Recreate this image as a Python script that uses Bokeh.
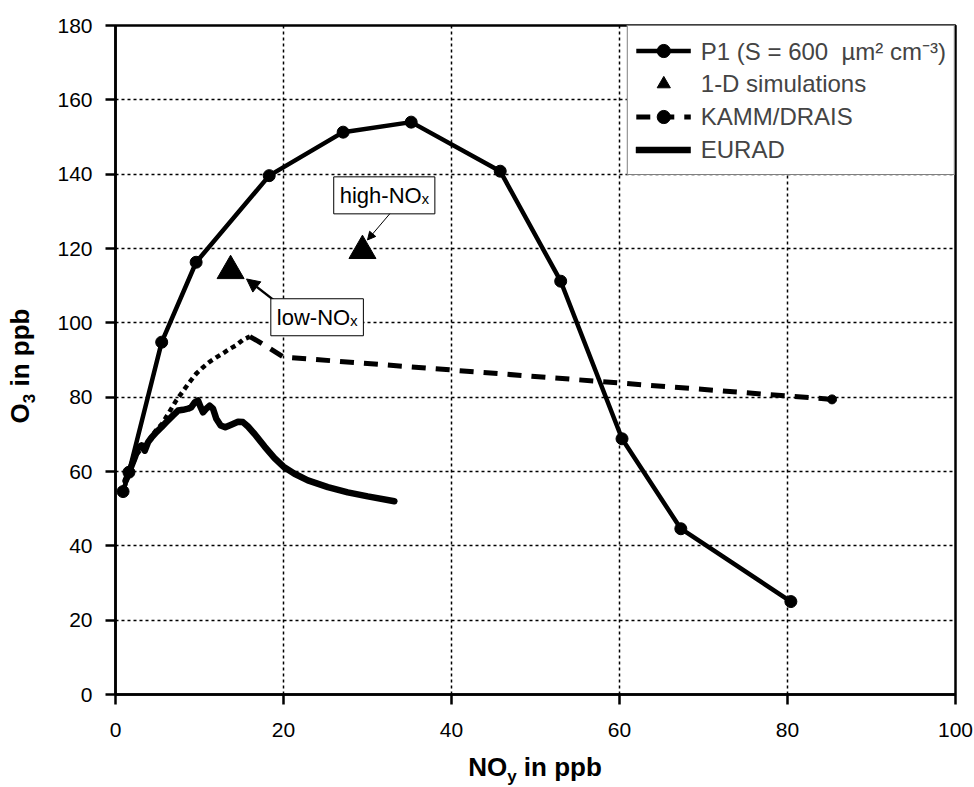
from bokeh.plotting import figure
from bokeh.models import (Range1d, FixedTicker, Legend, LegendItem, Label,
                          Arrow, NormalHead, Div)
from bokeh.layouts import row, column
from bokeh.embed import file_html
from bokeh.resources import INLINE

# ---- data ----
x_ticks = [0, 20, 40, 60, 80, 100]
y_ticks = [0, 20, 40, 60, 80, 100, 120, 140, 160, 180]

p1_x = [0.9, 1.6, 5.5, 9.6, 18.3, 27.1, 35.2, 45.8, 53.0, 60.3, 67.3, 80.4]
p1_y = [54.6, 59.8, 94.8, 116.3, 139.6, 151.3, 154.0, 140.8, 111.2, 68.8, 44.6, 25.0]

sim_x = [13.7, 29.4]
sim_y = [114.0, 119.4]

kamm_x = [1.0, 1.8, 2.5, 3.2, 4.0, 4.8, 5.6, 6.4, 7.2, 8.0, 8.8, 9.6, 10.4,
          11.2, 12.0, 12.8, 13.6, 14.4, 15.2, 16.0, 17.0, 18.3, 20.0, 85.3]
kamm_y = [55.5, 60.5, 64.5, 66.5, 68.5, 71.0, 73.0, 76.0, 79.0, 81.5, 84.0,
          86.3, 88.0, 89.5, 90.7, 91.8, 93.0, 94.0, 95.5, 96.3, 95.0, 93.2,
          90.8, 79.4]

eurad_x = [1.2, 1.70, 2.30, 2.69, 3.09, 3.49, 3.88, 4.28, 4.87, 5.47, 6.06,
           6.85, 7.45, 8.04, 8.64, 9.03, 9.43, 9.82, 10.14, 10.42, 10.81,
           11.21, 11.61, 12.0, 12.52, 13.07, 13.78, 14.58, 15.17, 15.77,
           16.56, 17.75, 18.93, 20.0, 21.31, 22.9, 25.28, 27.65, 30.03, 33.2]
eurad_y = [57.5, 60.3, 63.8, 66.4, 67.0, 65.6, 67.9, 69.1, 70.6, 71.9, 73.3,
           75.1, 76.4, 76.6, 76.9, 77.3, 78.6, 79.1, 77.3, 75.9, 76.9, 77.7,
           76.9, 74.2, 72.4, 71.9, 72.6, 73.4, 73.3, 72.1, 70.1, 66.7, 63.6,
           61.3, 59.4, 57.6, 55.8, 54.4, 53.3, 52.0]

FONT = "Liberation Sans"

LEFT_W = 40
P_W, P_H = 974 - LEFT_W, 752
BOT_H = 787 - P_H

p = figure(width=P_W, height=P_H, x_range=Range1d(0, 100), y_range=Range1d(0, 180),
           output_backend="svg", toolbar_location=None, margin=0,
           min_border_left=115 - LEFT_W, min_border_right=19, min_border_top=25,
           min_border_bottom=P_H - 694)
p.outline_line_color = "black"
p.outline_line_width = 2.5
p.background_fill_color = "white"

for ax, t, so in ((p.xaxis[0], x_ticks, 18), (p.yaxis[0], y_ticks, 13)):
    ax.ticker = FixedTicker(ticks=t)
    ax.axis_line_width = 2.5
    ax.major_tick_line_width = 2.5
    ax.major_tick_out = 10
    ax.major_tick_in = 0
    ax.minor_tick_out = 0
    ax.minor_tick_in = 0
    ax.major_label_text_font = FONT
    ax.major_label_text_font_size = "21px"
    ax.major_label_text_color = "black"
    ax.major_label_standoff = so

for g in (p.xgrid[0], p.ygrid[0]):
    g.grid_line_color = "black"
    g.grid_line_dash = "3 3"
    g.grid_line_width = 1.5

# EURAD
r_eurad = p.line(eurad_x, eurad_y, line_color="black", line_width=6.5,
                 line_join="round", line_cap="round")

# KAMM/DRAIS: dense part and long part
split = kamm_x.index(16.0)
r_kamm_a = p.line(kamm_x[:split + 1], kamm_y[:split + 1], line_color="black",
                  line_width=4.5, line_dash="5 4")
r_kamm_b = p.line(kamm_x[split:], kamm_y[split:], line_color="black",
                  line_width=5, line_dash="14 10")
r_kamm_dot = p.scatter(kamm_x[-1:], kamm_y[-1:], marker="circle", size=9,
                       fill_color="black", line_color="black")

# P1
r_p1_line = p.line(p1_x, p1_y, line_color="black", line_width=4.5, line_join="round")
r_p1_pts = p.scatter(p1_x, p1_y, marker="circle", size=12, fill_color="black",
                     line_color="black")

# 1-D simulations
r_sim = p.scatter(sim_x, sim_y, marker="triangle", size=27, fill_color="black",
                  line_color="black")

# annotations
p.add_layout(Arrow(end=NormalHead(size=8, fill_color="black", line_color="black"),
                   x_start=32.9, y_start=130.0, x_end=30.0, y_end=122.3,
                   line_width=1, line_color="black"))
p.add_layout(Arrow(end=NormalHead(size=13, fill_color="black", line_color="black"),
                   x_start=19.3, y_start=105.3, x_end=15.6, y_end=111.8,
                   line_width=2.5, line_color="black"))

for tx, ty, txt in ((32.0, 134.3, "high-NOₓ"), (24.0, 101.5, "low-NOₓ")):
    p.add_layout(Label(x=tx, y=ty, text=txt, text_align="center",
                       text_baseline="middle", text_font=FONT,
                       text_font_size="22px", text_color="black",
                       border_line_color="black", border_line_width=1,
                       background_fill_color="white", padding=6))

legend = Legend(items=[
    LegendItem(label="P1 (S = 600  µm² cm⁻³)", renderers=[r_p1_line, r_p1_pts]),
    LegendItem(label="1-D simulations", renderers=[r_sim]),
    LegendItem(label="KAMM/DRAIS", renderers=[r_kamm_b, r_kamm_dot]),
    LegendItem(label="EURAD", renderers=[r_eurad]),
], location="top_right", margin=0, padding=8, spacing=0, glyph_width=55,
    glyph_height=33, label_standoff=10, label_text_font=FONT,
    label_text_font_size="24px", border_line_color="black",
    border_line_width=1.5, background_fill_color="white", background_fill_alpha=1)
p.add_layout(legend)

# axis titles with subscripts (HTML text)
title_css = ("font-family:'Liberation Sans'; font-weight:bold; font-size:26px; "
             "line-height:30px; color:black; white-space:nowrap;")
x_title = Div(width=P_W, height=BOT_H, margin=0, text=(
    f'<div style="{title_css} box-sizing:border-box; width:{P_W}px; '
    f'padding-left:{115 - LEFT_W}px; padding-right:19px; text-align:center; '
    f'margin-top:0px;">NO<sub style="font-size:17px; line-height:0;">y</sub> in ppb</div>'))
y_title = Div(width=LEFT_W, height=787, margin=0, text=(
    f'<div style="{title_css} width:200px; height:30px; text-align:center; '
    f'transform-origin:0 0; transform:translate(5px, 466px) rotate(-90deg);">'
    f'O<sub style="font-size:17px; line-height:0;">3</sub> in ppb</div>'))

layout = row(y_title, column(p, x_title, spacing=0), spacing=0)

open("out.html", "w").write(file_html(layout, INLINE))
